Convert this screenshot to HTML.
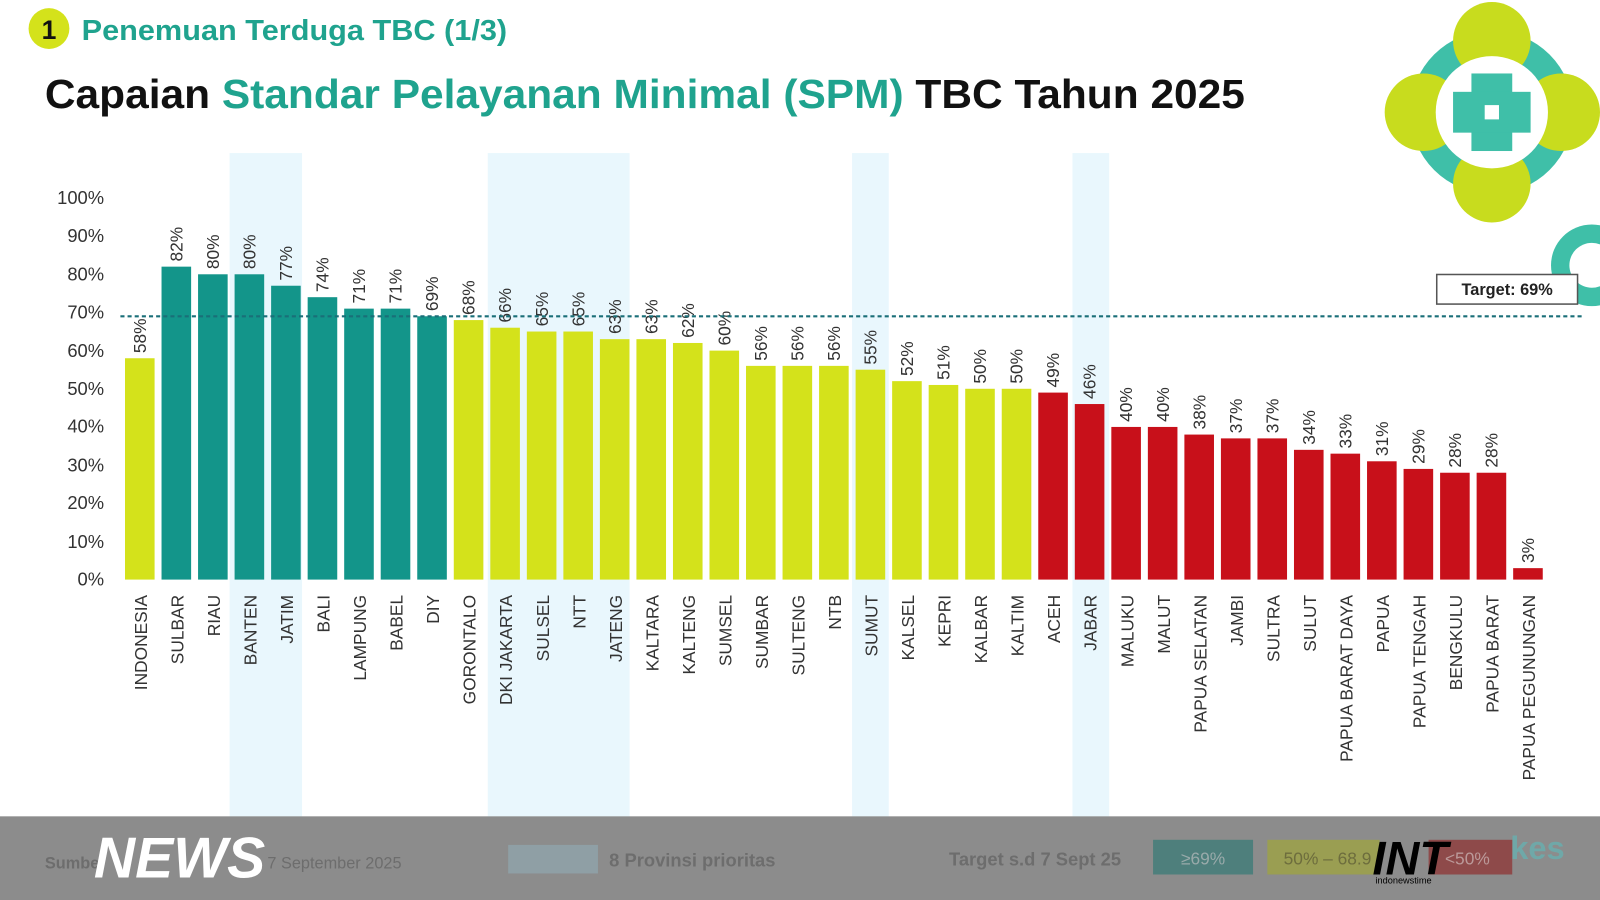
<!DOCTYPE html>
<html><head><meta charset="utf-8"><style>
html,body{margin:0;padding:0;background:#fff;width:1600px;height:900px;overflow:hidden}
svg{display:block}
text{font-family:"Liberation Sans",sans-serif}
</style></head><body>
<svg width="1600" height="900" viewBox="0 0 1568 882" preserveAspectRatio="none" xmlns="http://www.w3.org/2000/svg">
<rect width="1568" height="882" fill="#fff"/>
<g fill="#e9f7fd">
<rect x="225" y="150" width="71" height="650"/>
<rect x="478" y="150" width="139" height="650"/>
<rect x="835" y="150" width="36" height="650"/>
<rect x="1051" y="150" width="36" height="650"/>
</g>
<circle cx="48" cy="28" r="20" fill="#d4e21b"/>
<text x="48" y="38" font-size="26" font-weight="bold" text-anchor="middle" fill="#111">1</text>
<text x="80" y="39" font-size="28" font-weight="bold" fill="#1fa38e" textLength="417" lengthAdjust="spacingAndGlyphs">Penemuan Terduga TBC (1/3)</text>
<text x="44" y="106" font-size="40" font-weight="bold" fill="#111" textLength="1176" lengthAdjust="spacingAndGlyphs">Capaian <tspan fill="#1fa38e">Standar Pelayanan Minimal (SPM)</tspan> TBC Tahun 2025</text>
<g>
<circle cx="1462" cy="110" r="80" fill="#3fbfa8"/>
<circle cx="1395" cy="110" r="38" fill="#c8dc1e"/>
<circle cx="1530" cy="110" r="38" fill="#c8dc1e"/>
<circle cx="1462" cy="40" r="38" fill="#c8dc1e"/>
<circle cx="1462" cy="180" r="38" fill="#c8dc1e"/>
<circle cx="1462" cy="110" r="55" fill="#fff"/>
<rect x="1442" y="72" width="40" height="76" fill="#3fbfa8"/>
<rect x="1424" y="90" width="76" height="40" fill="#3fbfa8"/>
<rect x="1455" y="103" width="14" height="14" fill="#fff"/>
<circle cx="1560" cy="260" r="40" fill="#3fbfa8"/>
<circle cx="1560" cy="260" r="22" fill="#fff"/>
</g>
<g font-size="18" fill="#333" text-anchor="end">
<text x="102" y="574">0%</text><text x="102" y="537">10%</text><text x="102" y="499">20%</text>
<text x="102" y="462">30%</text><text x="102" y="424">40%</text><text x="102" y="387">50%</text>
<text x="102" y="350">60%</text><text x="102" y="312">70%</text><text x="102" y="275">80%</text>
<text x="102" y="237">90%</text><text x="102" y="200">100%</text>
</g>
<g id="bars"></g>
<line x1="118" y1="310" x2="1550" y2="310" stroke="#1a6f78" stroke-width="2" stroke-dasharray="4,3"/>
<rect x="1408" y="269" width="138" height="29" fill="#fff" stroke="#555" stroke-width="1.5"/>
<text x="1477" y="289" font-size="16" font-weight="bold" text-anchor="middle" fill="#222">Target: 69%</text>
<rect x="0" y="800" width="1568" height="82" fill="#8c8c8c"/>
<text x="44" y="851" font-size="16" font-weight="bold" fill="#6d6d6d">Sumber</text>
<text x="262" y="851" font-size="16" fill="#6d6d6d">7 September 2025</text>
<rect x="498" y="828" width="88" height="28" fill="#8f9fa5"/>
<text x="597" y="849" font-size="18" font-weight="bold" fill="#6d6d6d">8 Provinsi prioritas</text>
<text x="930" y="848" font-size="18" font-weight="bold" fill="#6d6d6d">Target s.d 7 Sept 25</text>
<rect x="1130" y="823" width="98" height="34" fill="#4e7f7c"/>
<text x="1179" y="847" font-size="17" text-anchor="middle" fill="#9aa">≥69%</text>
<rect x="1242" y="823" width="110" height="34" fill="#9a9e52"/>
<text x="1258" y="847" font-size="17" fill="#6d6d3d">50% – 68.9</text>
<rect x="1400" y="823" width="82" height="34" fill="#8e4a4a"/>
<text x="1438" y="847" font-size="17" text-anchor="middle" fill="#b99">&lt;50%</text>
<text x="1480" y="842" font-size="32" font-weight="bold" fill="#6fa8a8">kes</text>
<text x="92" y="860" font-size="56" font-weight="bold" font-style="italic" fill="#fff">NEWS</text>
<text x="1345" y="857" font-size="46" font-weight="bold" font-style="italic" fill="#000">INT</text>
<text x="1348" y="866" font-size="9" fill="#000">indonewstime</text>
</svg>
<script>
const d=[["INDONESIA",58,"y"],["SULBAR",82,"t"],["RIAU",80,"t"],["BANTEN",80,"t"],["JATIM",77,"t"],["BALI",74,"t"],["LAMPUNG",71,"t"],["BABEL",71,"t"],["DIY",69,"t"],["GORONTALO",68,"y"],["DKI JAKARTA",66,"y"],["SULSEL",65,"y"],["NTT",65,"y"],["JATENG",63,"y"],["KALTARA",63,"y"],["KALTENG",62,"y"],["SUMSEL",60,"y"],["SUMBAR",56,"y"],["SULTENG",56,"y"],["NTB",56,"y"],["SUMUT",55,"y"],["KALSEL",52,"y"],["KEPRI",51,"y"],["KALBAR",50,"y"],["KALTIM",50,"y"],["ACEH",49,"r"],["JABAR",46,"r"],["MALUKU",40,"r"],["MALUT",40,"r"],["PAPUA SELATAN",38,"r"],["JAMBI",37,"r"],["SULTRA",37,"r"],["SULUT",34,"r"],["PAPUA BARAT DAYA",33,"r"],["PAPUA",31,"r"],["PAPUA TENGAH",29,"r"],["BENGKULU",28,"r"],["PAPUA BARAT",28,"r"],["PAPUA PEGUNUNGAN",3,"r"]];
const col={y:"#d4e21b",t:"#13958a",r:"#c8101a"};
let s="";
d.forEach((v,i)=>{const cx=137+i*35.8,h=v[1]*3.74,top=568-h;
s+=`<rect x="${cx-14.5}" y="${top}" width="29" height="${h}" fill="${col[v[2]]}"/>`;
s+=`<text transform="translate(${cx+6},${top-5}) rotate(-90)" font-size="17" fill="#333">${v[1]}%</text>`;
s+=`<text transform="translate(${cx+7},583) rotate(-90)" font-size="17" text-anchor="end" fill="#333">${v[0]}</text>`;});
document.getElementById("bars").innerHTML=s;
</script>
</body></html>
